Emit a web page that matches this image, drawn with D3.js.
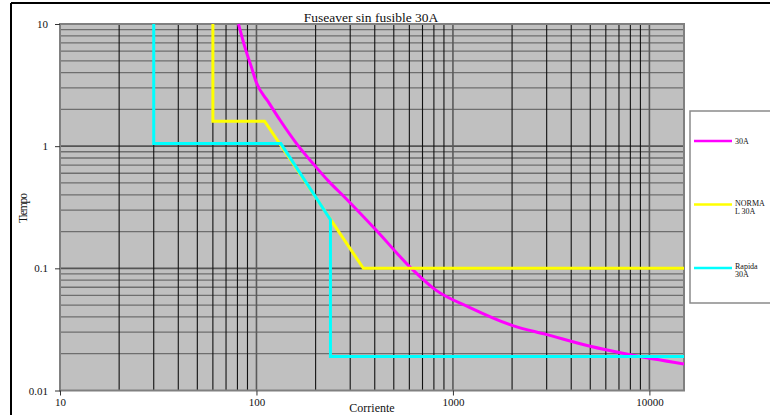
<!DOCTYPE html>
<html>
<head>
<meta charset="utf-8">
<script src="https://cdn.jsdelivr.net/npm/d3@7"></script>
<style>
  html, body { margin: 0; padding: 0; background: #fff; }
  svg { display: block; }
  text { font-family: "Liberation Serif", "DejaVu Serif", serif; fill: #111; }
</style>
</head>
<body>
<svg id="chart" width="770" height="415"></svg>
<script>
// Curvas tiempo-corriente (escala log-log)
const titulo = "Fuseaver sin fusible 30A";
const ejeX = "Corriente";
const ejeY = "Tiempo";

const xTicks = [10, 100, 1000, 10000];
const yTicks = [0.01, 0.1, 1, 10];
const yTickLabels = ["0.01", "0.1", "1", "10"];

const series = ["30A", "NORMAL 30A", "Rapida 30A"];
const leyenda = [["30A"], ["NORMA", "L 30A"], ["Rapida", "30A"]];
const colores = ["#ff00ff", "#ffff00", "#00ffff"];

// 30A
const corriente30A = [81, 88, 94, 100, 115, 132, 160, 200, 232, 282, 407, 614, 822, 1213, 2014, 2976, 4936, 7880, 15000];
const tiempo30A    = [10, 6.2, 4.5, 3.3, 2.3, 1.63, 1.05, 0.68, 0.52, 0.38, 0.205, 0.1, 0.066, 0.048, 0.034, 0.0288, 0.0231, 0.0197, 0.0165];

// NORMAL 30A
const corrienteNormal = [60, 60, 110, 350, 15000];
const tiempoNormal    = [10, 1.6, 1.6, 0.1, 0.1];

// Rapida 30A
const corrienteRapida = [30, 30, 133, 238, 238, 15000];
const tiempoRapida    = [10, 1.05, 1.05, 0.25, 0.019, 0.019];

const datos = [
  d3.zip(corriente30A, tiempo30A),
  d3.zip(corrienteNormal, tiempoNormal),
  d3.zip(corrienteRapida, tiempoRapida)
];

const svg = d3.select("#chart");
const area = { left: 60, right: 684, top: 24, bottom: 390.5 };

const x = d3.scaleLog().domain([10, 15000]).range([area.left, area.right]);
const y = d3.scaleLog().domain([0.01, 10]).range([area.bottom, area.top]);

// marco exterior
svg.append("line").attr("x1", 11).attr("x2", 770).attr("y1", 3).attr("y2", 3)
  .attr("stroke", "#000").attr("stroke-width", 2);
svg.append("line").attr("x1", 11).attr("x2", 11).attr("y1", 3).attr("y2", 415)
  .attr("stroke", "#000").attr("stroke-width", 2);

// fondo del área de trazado
svg.append("rect")
  .attr("x", area.left).attr("y", area.top)
  .attr("width", area.right - area.left).attr("height", area.bottom - area.top)
  .attr("fill", "#c0c0c0");

// cuadrícula: todas las subdivisiones logarítmicas
const xMinor = [];
for (let d = 10; d <= 10000; d *= 10) for (let k = 1; k <= 9; k++) { const v = d * k; if (v > 10 && v <= 15000) xMinor.push(v); }
const yMinor = [];
for (let d = 0.01; d < 10; d *= 10) for (let k = 1; k <= 9; k++) { const v = +(d * k).toPrecision(3); if (v > 0.01 && v < 10) yMinor.push(v); }

const isDecade = v => Math.abs(Math.log10(v) - Math.round(Math.log10(v))) < 1e-6;

svg.append("g").selectAll("line").data(yMinor).join("line")
  .attr("x1", area.left).attr("x2", area.right)
  .attr("y1", d => y(d)).attr("y2", d => y(d))
  .attr("stroke", d => isDecade(d) ? "#555" : "#6e6e6e")
  .attr("stroke-width", d => isDecade(d) ? 1.6 : 1.3);

svg.append("g").selectAll("line").data(xMinor).join("line")
  .attr("x1", d => x(d)).attr("x2", d => x(d))
  .attr("y1", area.top).attr("y2", area.bottom)
  .attr("stroke", d => isDecade(d) ? "#5a5a5a" : "#111")
  .attr("stroke-width", d => isDecade(d) ? 1.6 : 1.1);

// borde del área
svg.append("rect")
  .attr("x", area.left).attr("y", area.top)
  .attr("width", area.right - area.left).attr("height", area.bottom - area.top)
  .attr("fill", "none").attr("stroke", "#808080").attr("stroke-width", 2);

// ejes
const axX = svg.append("g").attr("transform", `translate(0,${area.bottom})`)
  .call(d3.axisBottom(x).tickValues(xTicks).tickFormat(d3.format("d")).tickSize(5).tickSizeOuter(0));
const axY = svg.append("g").attr("transform", `translate(${area.left},0)`)
  .call(d3.axisLeft(y).tickValues(yTicks).tickFormat((d, i) => yTickLabels[i]).tickSize(5).tickSizeOuter(0));
[axX, axY].forEach(a => {
  a.select(".domain").remove();
  a.selectAll(".tick line").attr("stroke", "#333");
  a.selectAll(".tick text").attr("font-family", "Liberation Serif, DejaVu Serif, serif")
    .attr("font-size", 11).attr("fill", "#111");
});
axX.selectAll(".tick text").attr("y", 8);
axY.selectAll(".tick text").attr("x", -12);

// curvas
svg.append("clipPath").attr("id", "clipArea").append("rect")
  .attr("x", area.left).attr("y", area.top - 2)
  .attr("width", area.right - area.left).attr("height", area.bottom - area.top + 2);

const lineaSuave = d3.line().x(d => x(d[0])).y(d => y(d[1])).curve(d3.curveMonotoneX);
const lineaRecta = d3.line().x(d => x(d[0])).y(d => y(d[1]));
svg.append("g").attr("clip-path", "url(#clipArea)")
  .selectAll("path").data(datos).join("path")
  .attr("d", (d, i) => i === 0 ? lineaSuave(d) : lineaRecta(d))
  .attr("fill", "none")
  .attr("stroke", (d, i) => colores[i])
  .attr("stroke-width", 3)
  .attr("stroke-linejoin", "miter");

// título y rótulos de ejes
svg.append("text").attr("x", 371).attr("y", 22).attr("text-anchor", "middle")
  .attr("font-size", 13.5).text(titulo);
svg.append("text").attr("x", 372).attr("y", 412).attr("text-anchor", "middle")
  .attr("font-size", 12).text(ejeX);
svg.append("text").attr("transform", "translate(27,208) rotate(-90)").attr("text-anchor", "middle")
  .attr("font-size", 11.5).attr("textLength", 30).text(ejeY);

// leyenda
const leg = svg.append("g");
leg.append("rect").attr("x", 690).attr("y", 111).attr("width", 100).attr("height", 192)
  .attr("fill", "#fff").attr("stroke", "#8a8a8a").attr("stroke-width", 1.5);
const legY = [141, 204.5, 268];
series.forEach((s, i) => {
  leg.append("line").attr("x1", 694).attr("x2", 732).attr("y1", legY[i]).attr("y2", legY[i])
    .attr("stroke", colores[i]).attr("stroke-width", 2.5);
  const t = leg.append("text").attr("x", 735).attr("font-size", 8);
  leyenda[i].forEach((l, j) => {
    t.append("tspan").attr("x", 735).attr("y", legY[i] + (leyenda[i].length === 1 ? 3 : 1 + j * 8)).text(l);
  });
});
</script>
</body>
</html>
